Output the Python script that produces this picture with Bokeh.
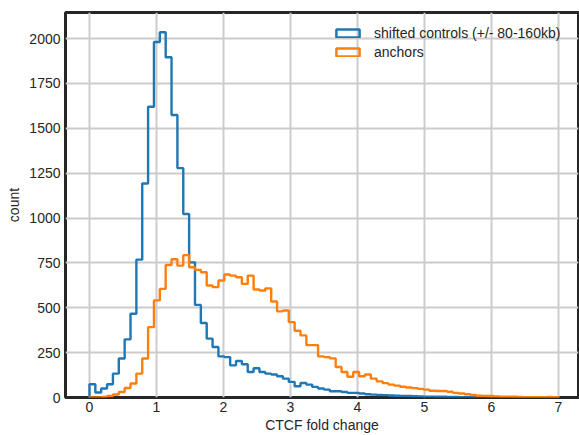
import numpy as np
from bokeh.plotting import figure
from bokeh.models import Legend, LegendItem, FixedTicker, Range1d
from bokeh.embed import file_html
from bokeh.resources import INLINE

# Histogram bins (fold change from 0 to 7, 80 bins)
bin_lo = 0.0
bin_hi = 7.0
n_bins = 80

series_labels = ["shifted controls (+/- 80-160kb)", "anchors"]

controls_counts = [
    74, 28, 50, 74, 133, 217, 324, 467, 768, 1192,
    1620, 1981, 2035, 1896, 1574, 1278, 1022, 753, 516, 415,
    328, 281, 229, 225, 179, 203, 185, 142, 163, 142,
    133, 128, 118, 105, 87, 63, 81, 72, 59, 50,
    44, 35, 35, 31, 26, 26, 22, 18, 16, 14,
    13, 11, 10, 9, 8, 7, 6, 5, 5, 4,
    4, 3, 3, 2, 2, 2, 1, 1, 1, 1,
    1, 0, 0, 0, 1, 0, 0, 0, 0, 0,
]

anchors_counts = [
    0, 0, 3, 8, 17, 31, 53, 78, 133, 217,
    392, 541, 605, 738, 770, 735, 793, 726, 711, 698,
    624, 615, 652, 685, 679, 670, 633, 679, 602, 596,
    608, 535, 480, 485, 420, 372, 346, 292, 292, 229,
    225, 218, 170, 142, 116, 142, 118, 128, 105, 90,
    80, 72, 66, 60, 56, 52, 48, 44, 38, 36,
    36, 32, 26, 22, 18, 14, 10, 9, 8, 6,
    5, 5, 4, 3, 2, 2, 1, 2, 3, 1,
]

x_ticks = [0, 1, 2, 3, 4, 5, 6, 7]
y_ticks = [0, 250, 500, 750, 1000, 1250, 1500, 1750, 2000]

colors = ["#1f77b4", "#ff7f0e"]

edges = np.linspace(bin_lo, bin_hi, n_bins + 1)


def step_xy(counts):
    xs = [edges[0]]
    ys = [0]
    for i, c in enumerate(counts):
        xs += [edges[i], edges[i + 1]]
        ys += [c, c]
    xs.append(edges[-1])
    ys.append(0)
    return xs, ys


FONT = "Liberation Sans"
TXT = "#262626"

p = figure(width=579, height=435, output_backend="svg", toolbar_location=None,
           x_range=Range1d(-0.358, 7.3), y_range=Range1d(0, 2145),
           min_border_left=65, min_border_right=1, min_border_top=12, min_border_bottom=38)

p.background_fill_color = "white"
p.border_fill_color = "white"
p.outline_line_color = TXT
p.outline_line_width = 3

items = []
for counts, label, col in zip([controls_counts, anchors_counts], series_labels, colors):
    xs, ys = step_xy(counts)
    p.line(xs, ys, line_color=col, line_width=2.4)
    # legend-only proxy (NaN geometry, never drawn in the plot area)
    proxy = p.quad(left=[np.nan], right=[np.nan], top=[np.nan], bottom=[np.nan],
                   fill_alpha=0, line_color=col, line_width=2.5)
    items.append(LegendItem(label=label, renderers=[proxy]))

legend = Legend(items=items, location=(268, 336), padding=0, margin=0, spacing=0,
                border_line_color=None, background_fill_alpha=0,
                glyph_width=29, glyph_height=10, label_height=19,
                label_standoff=12, label_text_font=FONT, label_text_font_size="14px",
                label_text_color=TXT)
p.add_layout(legend)

p.xaxis.ticker = FixedTicker(ticks=x_ticks)
p.yaxis.ticker = FixedTicker(ticks=y_ticks)
p.xaxis.axis_label = "CTCF fold change"
p.yaxis.axis_label = "count"

for ax in [p.xaxis[0], p.yaxis[0]]:
    ax.axis_line_color = None
    ax.major_tick_line_color = None
    ax.minor_tick_line_color = None
    ax.major_tick_out = 0
    ax.major_tick_in = 0
    ax.minor_tick_out = 0
    ax.minor_tick_in = 0
    ax.major_label_text_font = FONT
    ax.major_label_text_font_size = "14px"
    ax.major_label_text_color = TXT
    ax.axis_label_text_font = FONT
    ax.axis_label_text_font_size = "14px"
    ax.axis_label_text_font_style = "normal"
    ax.axis_label_text_color = TXT

p.xaxis[0].major_label_standoff = 4
p.xaxis[0].axis_label_standoff = 2
p.yaxis[0].major_label_standoff = 5
p.yaxis[0].axis_label_standoff = 4

p.xgrid.grid_line_color = "#cccccc"
p.ygrid.grid_line_color = "#cccccc"
p.xgrid.grid_line_width = 2
p.ygrid.grid_line_width = 2

open("out.html", "w").write(file_html(p, INLINE))
